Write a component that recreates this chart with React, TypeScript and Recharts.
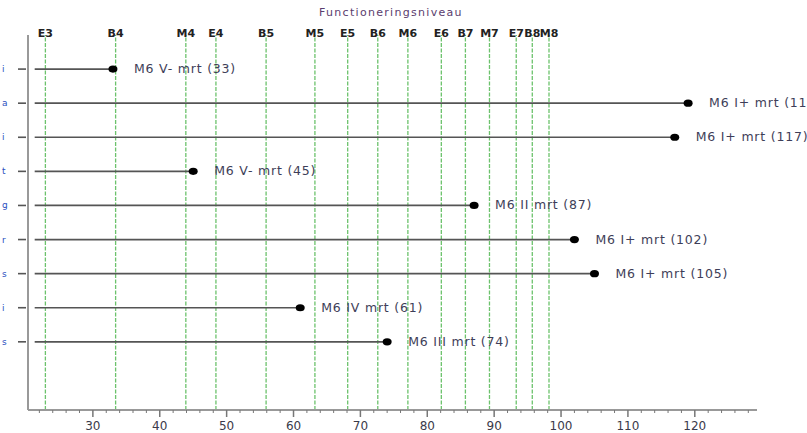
import React from "react";
import { ScatterChart, Scatter, XAxis, YAxis, ReferenceLine } from "recharts";

const rowLabels = ["i", "a", "i", "t", "g", "r", "s", "i", "s"];
const rowPositions = [10, 9, 8, 7, 6, 5, 4, 3, 2];
const values = [33, 119, 117, 45, 87, 102, 105, 61, 74];
const pointLabels = [
  "M6 V- mrt (33)",
  "M6 I+ mrt (119)",
  "M6 I+ mrt (117)",
  "M6 V- mrt (45)",
  "M6 II mrt (87)",
  "M6 I+ mrt (102)",
  "M6 I+ mrt (105)",
  "M6 IV mrt (61)",
  "M6 III mrt (74)",
];
const levelNames = ["E3", "B4", "M4", "E4", "B5", "M5", "E5", "B6", "M6", "E6", "B7", "M7", "E7", "B8", "M8"];
const levelValues = [22.9, 33.4, 43.9, 48.4, 55.9, 63.2, 68.1, 72.6, 77.1, 82.1, 85.7, 89.3, 93.3, 95.7, 98.2];
const xTicks = [
  22, 24, 26, 28, 30, 32, 34, 36, 38, 40, 42, 44, 46, 48, 50, 52, 54, 56, 58, 60, 62, 64, 66, 68, 70,
  72, 74, 76, 78, 80, 82, 84, 86, 88, 90, 92, 94, 96, 98, 100, 102, 104, 106, 108, 110, 112, 114, 116,
  118, 120, 122, 124, 126, 128,
];
const majorTickLabels = [30, 40, 50, 60, 70, 80, 90, 100, 110, 120];
const xDomain = [20.3, 129.3];
const yDomain = [0, 11];
const lineStart = 21.3;
const title = "Functioneringsniveau";

const points = values.map((v, i) => ({ x: v, y: rowPositions[i], label: pointLabels[i] }));

const FONT = "'DejaVu Sans', Verdana, sans-serif";

const YTick = (props: any) => {
  const { x, y, payload } = props;
  const idx = rowPositions.indexOf(payload.value);
  const ax = Number(x);
  const ay = Number(y);
  return (
    <g>
      <rect x={ax - 10} y={ay - 0.8} width={8} height={1.6} fill="#555" />
      <text x={ax - 26} y={ay + 3} fontSize={9} fill="#2a4fc0" fontFamily={FONT}>
        {idx >= 0 ? rowLabels[idx] : ""}
      </text>
    </g>
  );
};

const XTick = (props: any) => {
  const { x, y, payload } = props;
  const major = majorTickLabels.includes(payload.value);
  return (
    <g>
      <path d={`M${x},${y}L${x},${y + (major ? 7 : 3)}`} stroke="#777" strokeWidth={major ? 1.5 : 1} fill="none" />
      {major && (
        <text x={x} y={y + 20} textAnchor="middle" fontSize={12} fill="#3a3a4a" fontFamily={FONT}>
          {payload.value}
        </text>
      )}
    </g>
  );
};

const PointShape = (props: any) => {
  const { cx, cy, payload } = props;
  return (
    <g>
      <ellipse cx={cx} cy={cy} rx={4.5} ry={3.6} fill="#000" />
      <text x={cx + 21} y={cy + 4} fontSize={12.5} letterSpacing={0.8} fill="#3e3e58" fontFamily={FONT}>
        {payload.label}
      </text>
    </g>
  );
};

const LevelLabel = (props: any) => {
  const { viewBox, value } = props;
  const x = viewBox.x;
  const y = viewBox.y;
  return (
    <text x={x} y={y + 2} textAnchor="middle" fontSize={11} fontWeight="bold" fill="#222" fontFamily={FONT}>
      {value}
    </text>
  );
};

export default function App() {
  return (
    <div style={{ position: "absolute", left: 0, top: 0, width: 807, height: 433, background: "#fff", overflow: "hidden" }}>
      <div
        style={{
          position: "absolute",
          left: 319,
          top: 6,
          fontFamily: FONT,
          fontSize: 11,
          letterSpacing: 1.3,
          color: "#5a3d6e",
          whiteSpace: "nowrap",
        }}
      >
        {title}
      </div>
      <ScatterChart width={807} height={433} margin={{ top: 35, right: 50, bottom: 3, left: 0 }} style={{ overflow: "visible" }}>
        <XAxis
          type="number"
          dataKey="x"
          domain={xDomain}
          ticks={xTicks}
          interval={0}
          tickSize={0}
          tickMargin={0}
          height={20}
          axisLine={{ stroke: "#999", strokeWidth: 2 }}
          tickLine={false}
          tick={<XTick />}
        />
        <YAxis
          type="number"
          dataKey="y"
          domain={yDomain}
          ticks={rowPositions}
          interval={0}
          width={28}
          tickSize={0}
          tickMargin={0}
          axisLine={{ stroke: "#999", strokeWidth: 2 }}
          tickLine={false}
          tick={<YTick />}
        />
        {levelValues.map((v, i) => (
          <ReferenceLine
            key={"lvl" + i}
            x={v}
            stroke="#6cc26c"
            strokeWidth={1.3}
            strokeDasharray="4 1.5"
            label={<LevelLabel value={levelNames[i]} />}
          />
        ))}
        {values.map((v, i) => (
          <ReferenceLine
            key={"seg" + i}
            segment={[
              { x: lineStart, y: rowPositions[i] },
              { x: v, y: rowPositions[i] },
            ]}
            stroke="#555"
            strokeWidth={1.7}
          />
        ))}
        <Scatter data={points} isAnimationActive={false} shape={<PointShape />} />
      </ScatterChart>
    </div>
  );
}
